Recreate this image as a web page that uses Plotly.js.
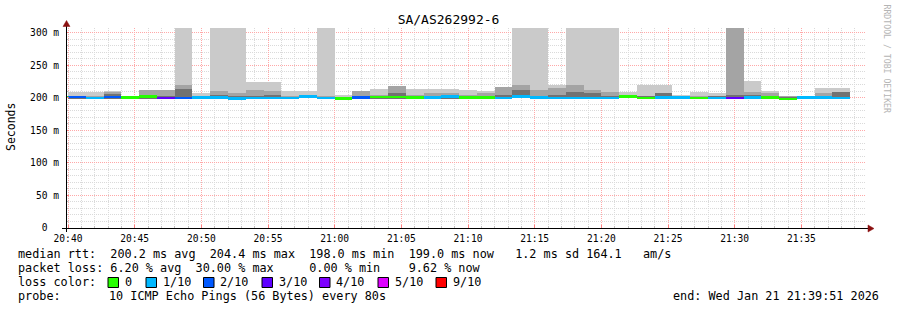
<!DOCTYPE html>
<html>
<head>
<meta charset="utf-8">
<script src="https://cdn.plot.ly/plotly-3.0.1.min.js"></script>
<style>
html,body{margin:0;padding:0;background:#fff;}
#chart{width:897px;height:310px;}
</style>
</head>
<body>
<div id="chart"></div>
<script>
// ---- data (80 s bins) ----
const binStart = [
  '2026-01-21 20:38:40','2026-01-21 20:40:00','2026-01-21 20:41:20','2026-01-21 20:42:40','2026-01-21 20:44:00',
  '2026-01-21 20:45:20','2026-01-21 20:46:40','2026-01-21 20:48:00','2026-01-21 20:49:20','2026-01-21 20:50:40',
  '2026-01-21 20:52:00','2026-01-21 20:53:20','2026-01-21 20:54:40','2026-01-21 20:56:00','2026-01-21 20:57:20',
  '2026-01-21 20:58:40','2026-01-21 21:00:00','2026-01-21 21:01:20','2026-01-21 21:02:40','2026-01-21 21:04:00',
  '2026-01-21 21:05:20','2026-01-21 21:06:40','2026-01-21 21:08:00','2026-01-21 21:09:20','2026-01-21 21:10:40',
  '2026-01-21 21:12:00','2026-01-21 21:13:20','2026-01-21 21:14:40','2026-01-21 21:16:00','2026-01-21 21:17:20',
  '2026-01-21 21:18:40','2026-01-21 21:20:00','2026-01-21 21:21:20','2026-01-21 21:22:40','2026-01-21 21:24:00',
  '2026-01-21 21:25:20','2026-01-21 21:26:40','2026-01-21 21:28:00','2026-01-21 21:29:20','2026-01-21 21:30:40',
  '2026-01-21 21:32:00','2026-01-21 21:33:20','2026-01-21 21:34:40','2026-01-21 21:36:00','2026-01-21 21:37:20'
];
// smoke lower edge (ms)
const smokeLo = [199,198,198.5,198,199,198.5,198.5,197.5,198.5,198.5,197.5,198.5,198.5,198,199,199,198,198.5,198.5,198.5,198.5,198.5,198.5,198.5,198.5,198.5,199,198.5,198.5,198.5,198.5,198.5,199,198.5,198.5,198.5,198.5,198,198,198.5,198.5,197.5,198.5,198.5,198.5];
// outer (lightest) smoke band top (ms); 320 = beyond the top of the axis
const smokeOuter = [203,208.6,208.5,210,202.5,212,212,320,207,320,320,224,224,211,211,320,204,210,213,218,213,213,214,212,211,216,320,320,219,320,320,320,209,220,220,205,209,207,320,226.5,211,203.5,203,215,215];
// middle smoke band top (ms)
const smokeMid = [202,203,202,209.5,201.5,212,212,219,203,210,208,212,211,203,204,202,201,210,204,218,205,207,207,205,207,216,220,212,215,219,212,209,203,203,208,202,203,203,320,209,208,202,203,208,209];
// inner (dark) smoke band top (ms)
const smokeInner = [201,202,201,206,201,204,203,213,202,205,203,202,205,201,203,201,200,203,200,208,201,202,203,202,203,205,212,203,205,209,207,203,201,202,208,201,201,202,205,205,203,201,203,202,209];
// median rtt (ms)
const medianRtt = [201,201,200,201.5,200.5,201.8,200,200,200.5,200.5,199,199.5,200,199.5,202,200,199,200.5,201.5,201.5,200.5,200.5,202,200.5,200.5,200,202,200.5,200,200,200,200,201.8,200,200.5,200.5,199.5,200,199.5,200.5,200.5,198.5,200.5,200.5,200];
// lost pings out of 10
const lossCount = [0,2,1,2,0,0,3,2,1,1,1,1,1,1,1,1,0,2,0,0,0,1,1,0,0,1,1,1,1,1,1,1,0,0,1,1,0,1,3,1,0,0,1,1,1];

// legend
const lossLabels = ['0','1/10','2/10','3/10','4/10','5/10','9/10'];
const lossLevels = [0,1,2,3,4,5,9];
const lossColors = ['#26ff00','#00b8ff','#0059ff','#5e00ff','#7e00ff','#dd00ff','#ff0000'];

// axis ticks
const xTickVals = ['2026-01-21 20:40','2026-01-21 20:45','2026-01-21 20:50','2026-01-21 20:55','2026-01-21 21:00','2026-01-21 21:05','2026-01-21 21:10','2026-01-21 21:15','2026-01-21 21:20','2026-01-21 21:25','2026-01-21 21:30','2026-01-21 21:35'];
const xTickText = ['20:40','20:45','20:50','20:55','21:00','21:05','21:10','21:15','21:20','21:25','21:30','21:35'];
const yTickVals = [0,50,100,150,200,250,300];
const yTickText = ['0\u00a0\u00a0','50 m','100 m','150 m','200 m','250 m','300 m'];

const titleText = 'SA/AS262992-6';
const statLines = [
  'median rtt:  200.2 ms avg  204.4 ms max  198.0 ms min  199.0 ms now   1.2 ms sd 164.1   am/s',
  'packet loss: 6.20 % avg  30.00 % max     0.00 % min    9.62 % now'
];
const probeLabel = 'probe:';
const probeText = '10 ICMP Echo Pings (56 Bytes) every 80s';
const endText = 'end: Wed Jan 21 21:39:51 2026';

// ---- drawing ----
const L = 66, T = 28, W = 800, H = 200;   // plot area in pixels
const px = x => (x - L) / W;
const py = y => (T + H - y) / H;
const mono = 'DejaVu Sans Mono, monospace';
const BIN = 80000;

function band(top, color) {
  return {
    type: 'bar', x: binStart, base: smokeLo,
    y: top.map((v, i) => v - smokeLo[i]),
    offset: 0, width: BIN,
    marker: {color: color, line: {width: 0}},
    hoverinfo: 'skip'
  };
}
const medColor = lossCount.map(c => lossColors[lossLevels.indexOf(c)]);
const medHalf = 1.9;
const traces = [
  band(smokeOuter, '#cacaca'),
  band(smokeMid, '#a4a4a4'),
  band(smokeInner, '#727272'),
  {
    type: 'bar', x: binStart,
    base: medianRtt.map(v => v - medHalf),
    y: medianRtt.map(() => 2 * medHalf),
    offset: 0, width: BIN,
    marker: {color: medColor, line: {width: 0}},
    hoverinfo: 'skip'
  }
];

function txt(text, x, y, xanchor, extra) {
  return Object.assign({text: text, x: px(x), y: py(y), xanchor: xanchor, yanchor: 'middle',
    xref: 'paper', yref: 'paper', showarrow: false, font: {family: mono, size: 11.8, color: '#000'}}, extra || {});
}
const annotations = [
  txt('Seconds', 11, 127, 'center', {textangle: -90, font: {family: mono, size: 11.5, color: '#000'}}),
  txt('RRDTOOL / TOBI OETIKER', 886.5, 59, 'center', {textangle: 90, font: {family: mono, size: 8.2, color: '#b4b4b4'}}),
  txt(statLines[0].replace(/ /g, '\u00a0'), 16, 254, 'left'),
  txt(statLines[1].replace(/ /g, '\u00a0'), 16, 268, 'left'),
  txt('loss color:', 16, 282, 'left'),
  txt(probeLabel, 16, 296, 'left'),
  txt(probeText, 107, 296, 'left'),
  txt(endText, 880.5, 296, 'right')
];
const squareX = [108, 146, 203.5, 262, 319.5, 378, 436];
const shapes = [];
lossLabels.forEach((lab, i) => {
  shapes.push({type: 'rect', xref: 'paper', yref: 'paper',
    x0: px(squareX[i]), x1: px(squareX[i] + 10.5), y0: py(277.5), y1: py(287.5),
    fillcolor: lossColors[i], line: {color: '#000', width: 1}});
  annotations.push(txt(lab, squareX[i] + 14.5, 282, 'left'));
});
// axis lines and arrow heads
shapes.push({type: 'line', xref: 'paper', yref: 'paper', x0: px(66.5), x1: px(66.5), y0: py(232), y1: py(26),
  line: {color: '#000', width: 1}, layer: 'above'});
shapes.push({type: 'line', xref: 'paper', yref: 'paper', x0: px(62), x1: px(868), y0: py(228.5), y1: py(228.5),
  line: {color: '#000', width: 1}, layer: 'above'});
shapes.push({type: 'path', xref: 'paper', yref: 'paper', layer: 'above',
  path: `M ${px(63)},${py(26.5)} L ${px(70)},${py(26.5)} L ${px(66.5)},${py(20.5)} Z`,
  fillcolor: '#8b1010', line: {color: '#8b1010', width: 0.5}});
shapes.push({type: 'path', xref: 'paper', yref: 'paper', layer: 'above',
  path: `M ${px(868)},${py(225)} L ${px(868)},${py(232)} L ${px(874)},${py(228.5)} Z`,
  fillcolor: '#8b1010', line: {color: '#8b1010', width: 0.5}});

const layout = {
  width: 897, height: 310,
  margin: {l: L, r: 897 - L - W, t: T, b: 310 - T - H, pad: 0},
  paper_bgcolor: '#ffffff', plot_bgcolor: '#ffffff',
  barmode: 'overlay', bargap: 0, showlegend: false,
  title: {text: titleText, font: {family: mono, size: 13, color: '#000'},
          xref: 'container', x: 0.5, xanchor: 'center', yref: 'container', y: 1 - 19 / 310, yanchor: 'middle'},
  xaxis: {
    type: 'date', range: ['2026-01-21 20:39:51', '2026-01-21 21:39:51'],
    tickmode: 'array', tickvals: xTickVals, ticktext: xTickText,
    tickfont: {family: mono, size: 9.6, color: '#000'},
    ticks: 'inside', ticklen: 3, tickcolor: '#ff8080', ticklabelstandoff: 3,
    showgrid: true, gridcolor: '#ffa8a8', griddash: '1px,1px', gridwidth: 1,
    minor: {tickmode: 'linear', tick0: '2026-01-21 20:40:00', dtick: 60000, showgrid: true,
            gridcolor: '#dadada', griddash: '1px,1px', ticks: 'inside', ticklen: 2, tickcolor: '#c0c0c0'},
    showline: false, zeroline: false, fixedrange: true
  },
  yaxis: {
    range: [0, 307.2],
    tickmode: 'array', tickvals: yTickVals, ticktext: yTickText,
    tickfont: {family: mono, size: 9.6, color: '#000'},
    ticks: 'inside', ticklen: 3, tickcolor: '#ff8080', ticklabelstandoff: 6,
    showgrid: true, gridcolor: '#ffa8a8', griddash: '1px,1px', gridwidth: 1,
    minor: {tickmode: 'linear', tick0: 0, dtick: 10, showgrid: true,
            gridcolor: '#dadada', griddash: '1px,1px', ticks: 'inside', ticklen: 2, tickcolor: '#c0c0c0'},
    showline: false, zeroline: false, fixedrange: true
  },
  annotations: annotations,
  shapes: shapes
};

Plotly.newPlot('chart', traces, layout, {staticPlot: true, displayModeBar: false});
</script>
</body>
</html>
